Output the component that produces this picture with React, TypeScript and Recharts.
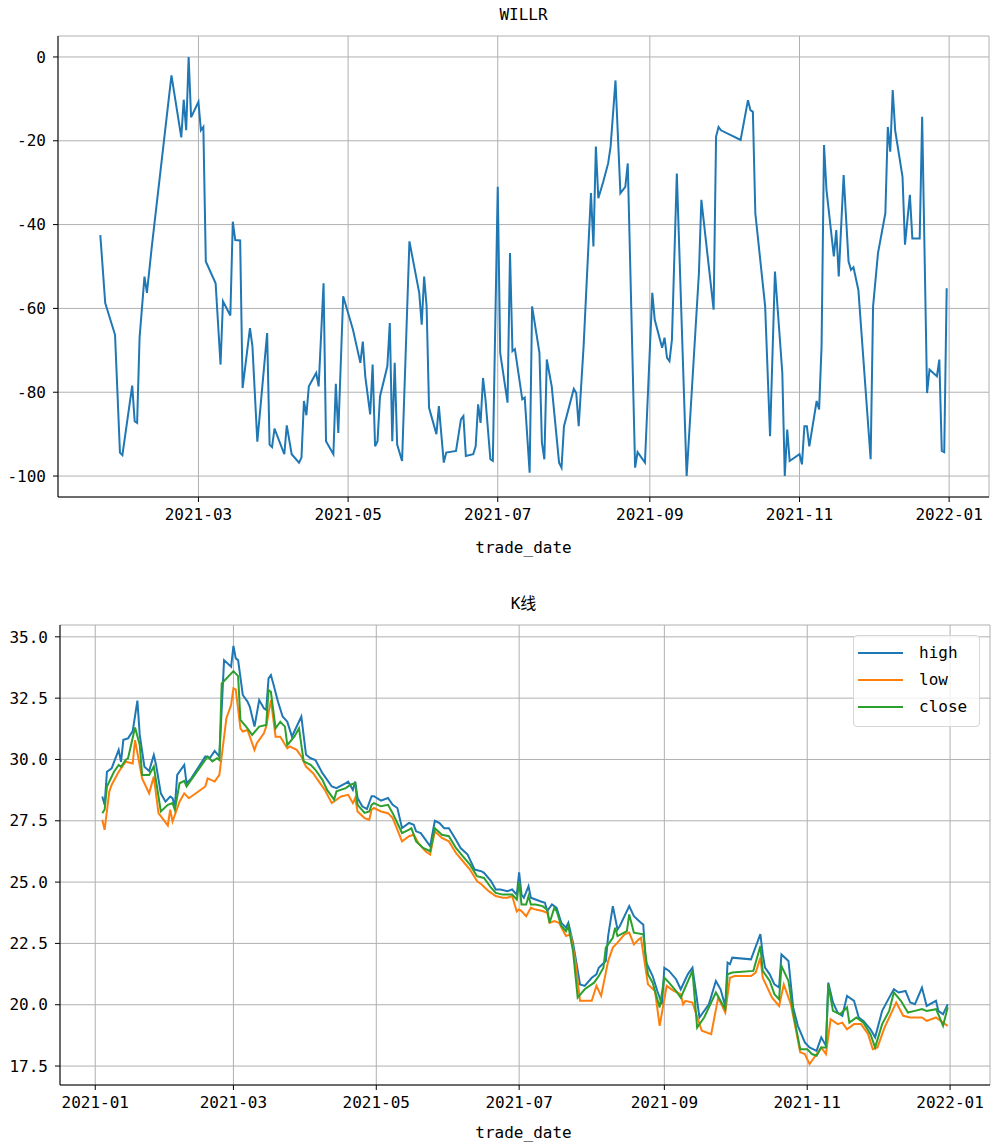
import React from "react";
import { LineChart, Line, XAxis, YAxis, CartesianGrid, Legend } from "recharts";

const FONT = '"DejaVu Sans Mono", "Noto Sans CJK SC", monospace';
const C_HIGH = "#1f77b4";
const C_LOW = "#ff7f0e";
const C_CLOSE = "#2ca02c";
const GRID = "#b0b0b0";

// ---- WILLR ----
const willrDates = [
  "2021-01-20", "2021-01-22", "2021-01-26", "2021-01-28", "2021-01-29",
  "2021-02-02", "2021-02-03", "2021-02-04", "2021-02-05", "2021-02-07", "2021-02-08", "2021-02-10", "2021-02-18", "2021-02-22", "2021-02-23", "2021-02-24", "2021-02-25", "2021-02-26",
  "2021-03-01", "2021-03-02", "2021-03-03", "2021-03-04", "2021-03-08", "2021-03-10", "2021-03-11", "2021-03-14", "2021-03-15", "2021-03-16", "2021-03-18", "2021-03-19", "2021-03-22", "2021-03-23", "2021-03-25", "2021-03-29", "2021-03-30", "2021-03-31",
  "2021-04-01", "2021-04-05", "2021-04-06", "2021-04-08", "2021-04-11", "2021-04-12", "2021-04-13", "2021-04-14", "2021-04-15", "2021-04-18", "2021-04-19", "2021-04-21", "2021-04-22", "2021-04-25", "2021-04-26", "2021-04-27", "2021-04-29",
  "2021-05-03", "2021-05-06", "2021-05-07", "2021-05-08", "2021-05-10", "2021-05-11", "2021-05-12", "2021-05-13", "2021-05-14", "2021-05-17", "2021-05-18", "2021-05-19", "2021-05-20", "2021-05-21", "2021-05-23", "2021-05-26", "2021-05-30", "2021-05-31",
  "2021-06-01", "2021-06-02", "2021-06-03", "2021-06-06", "2021-06-07", "2021-06-09", "2021-06-10", "2021-06-14", "2021-06-16", "2021-06-17", "2021-06-18", "2021-06-21", "2021-06-22", "2021-06-23", "2021-06-24", "2021-06-25", "2021-06-26", "2021-06-28", "2021-06-29",
  "2021-07-01", "2021-07-02", "2021-07-05", "2021-07-06", "2021-07-07", "2021-07-08", "2021-07-11", "2021-07-12", "2021-07-14", "2021-07-15", "2021-07-18", "2021-07-19", "2021-07-20", "2021-07-21", "2021-07-23", "2021-07-26", "2021-07-27", "2021-07-28",
  "2021-08-01", "2021-08-02", "2021-08-03", "2021-08-05", "2021-08-08", "2021-08-09", "2021-08-10", "2021-08-11", "2021-08-13", "2021-08-15", "2021-08-16", "2021-08-18", "2021-08-20", "2021-08-22", "2021-08-23", "2021-08-26", "2021-08-27", "2021-08-30",
  "2021-09-02", "2021-09-03", "2021-09-06", "2021-09-07", "2021-09-08", "2021-09-09", "2021-09-10", "2021-09-12", "2021-09-16", "2021-09-21", "2021-09-22", "2021-09-27", "2021-09-28", "2021-09-29", "2021-09-30",
  "2021-10-08", "2021-10-11", "2021-10-12", "2021-10-13", "2021-10-14", "2021-10-18", "2021-10-20", "2021-10-22", "2021-10-25", "2021-10-26", "2021-10-27", "2021-10-28",
  "2021-11-01", "2021-11-02", "2021-11-03", "2021-11-04", "2021-11-05", "2021-11-08", "2021-11-09", "2021-11-10", "2021-11-11", "2021-11-12", "2021-11-15", "2021-11-16", "2021-11-17", "2021-11-19", "2021-11-21", "2021-11-22", "2021-11-23", "2021-11-25", "2021-11-30",
  "2021-12-01", "2021-12-03", "2021-12-06", "2021-12-07", "2021-12-08", "2021-12-09", "2021-12-10", "2021-12-13", "2021-12-14", "2021-12-16", "2021-12-17", "2021-12-20", "2021-12-21", "2021-12-23", "2021-12-24", "2021-12-27", "2021-12-28", "2021-12-29", "2021-12-30", "2021-12-31",
];
const willrValues = [
  -42.5, -58.7, -66.3, -94.4, -95,
  -78.4, -86.9, -87.3, -67, -52.4, -56.3, -45.2, -4.4, -19.2, -10.2, -17.5, 0, -14.4,
  -10.7, -17.5, -16.7, -48.8, -54, -73.4, -58.3, -61.7, -39.3, -43.7, -43.8, -79, -64.7, -69, -91.8, -65.9, -92.5, -93.1,
  -88.7, -94.8, -87.9, -94.8, -96.8, -95.6, -82.1, -85.5, -78.6, -75.4, -78.6, -54, -91.7, -94.8, -78, -89.7, -57.1,
  -65.1, -73, -67.9, -76.2, -85.3, -73.4, -92.9, -91.7, -81, -73.8, -63.5, -91.7, -73, -92.5, -96.4, -44, -56.3, -63.9,
  -52.4, -59.5, -83.7, -90, -83.3, -96.8, -94.4, -94, -86.5, -85.7, -95.2, -94.8, -92.9, -82.9, -87.3, -76.6, -81.7, -96, -96.4,
  -31, -70.6, -82.5, -46.8, -70.2, -69.7, -81.7, -81.3, -99.2, -59.5, -70.6, -92, -96, -72.2, -78.6, -96.8, -98, -88.1,
  -79.2, -80.2, -88.1, -69, -32.5, -45.2, -21.4, -33.7, -29.8, -25.4, -21.4, -5.6, -32.5, -31, -25.4, -98, -94.3, -96.8,
  -56.3, -62.7, -69.4, -67, -71.8, -72.6, -67.5, -27.8, -100, -51.6, -34.1, -60.3, -19, -16.7, -17.5,
  -19.8, -10.3, -12.7, -13.1, -37.3, -59.5, -90.5, -51.2, -75.4, -100, -88.9, -96.4,
  -94.8, -97.2, -88.1, -88.1, -92.9, -82.1, -84.1, -69, -21, -31.7, -47.6, -41.3, -52.4, -28.2, -48.8, -50.8, -50.2, -55.6, -96,
  -59.5, -46.8, -37.3, -16.7, -22.6, -7.9, -17.5, -28.6, -44.8, -32.9, -43.3, -43.3, -14.3, -80.2, -74.6, -76.2, -72.2, -94, -94.3, -55.2,
];

// ---- K线 ----
const highDates = [
  "2021-01-04", "2021-01-05", "2021-01-06", "2021-01-08", "2021-01-11", "2021-01-12", "2021-01-13", "2021-01-15", "2021-01-17", "2021-01-19", "2021-01-20", "2021-01-22", "2021-01-24", "2021-01-26", "2021-01-27", "2021-01-29", "2021-01-31",
  "2021-02-02", "2021-02-03", "2021-02-04", "2021-02-05", "2021-02-08", "2021-02-09", "2021-02-11", "2021-02-17", "2021-02-19", "2021-02-21", "2021-02-23", "2021-02-25", "2021-02-28",
  "2021-03-01", "2021-03-02", "2021-03-03", "2021-03-05", "2021-03-07", "2021-03-08", "2021-03-10", "2021-03-12", "2021-03-14", "2021-03-15", "2021-03-16", "2021-03-17", "2021-03-18", "2021-03-20", "2021-03-22", "2021-03-24", "2021-03-26", "2021-03-27", "2021-03-30",
  "2021-04-01", "2021-04-03", "2021-04-05", "2021-04-08", "2021-04-09", "2021-04-12", "2021-04-14", "2021-04-18", "2021-04-19", "2021-04-21", "2021-04-22", "2021-04-23", "2021-04-25", "2021-04-27", "2021-04-29", "2021-04-30",
  "2021-05-03", "2021-05-06", "2021-05-08", "2021-05-10", "2021-05-12", "2021-05-15", "2021-05-17", "2021-05-18", "2021-05-20", "2021-05-22", "2021-05-24", "2021-05-26", "2021-05-28", "2021-05-30",
  "2021-06-01", "2021-06-04", "2021-06-06", "2021-06-09", "2021-06-12", "2021-06-15", "2021-06-16", "2021-06-19", "2021-06-21", "2021-06-23", "2021-06-26", "2021-06-28", "2021-06-30",
  "2021-07-01", "2021-07-02", "2021-07-03", "2021-07-05", "2021-07-06", "2021-07-08", "2021-07-10", "2021-07-12", "2021-07-13", "2021-07-15", "2021-07-17", "2021-07-19", "2021-07-21", "2021-07-22", "2021-07-24", "2021-07-27", "2021-07-29",
  "2021-08-01", "2021-08-03", "2021-08-04", "2021-08-07", "2021-08-08", "2021-08-10", "2021-08-12", "2021-08-13", "2021-08-17", "2021-08-19", "2021-08-22", "2021-08-23", "2021-08-24", "2021-08-27", "2021-08-29", "2021-08-31",
  "2021-09-01", "2021-09-03", "2021-09-06", "2021-09-08", "2021-09-11", "2021-09-13", "2021-09-16", "2021-09-20", "2021-09-23", "2021-09-25", "2021-09-27", "2021-09-28", "2021-09-29", "2021-09-30",
  "2021-10-08", "2021-10-12", "2021-10-13", "2021-10-14", "2021-10-16", "2021-10-18", "2021-10-20", "2021-10-21", "2021-10-24", "2021-10-26", "2021-10-28", "2021-10-31",
  "2021-11-02", "2021-11-05", "2021-11-07", "2021-11-09", "2021-11-10", "2021-11-12", "2021-11-14", "2021-11-16", "2021-11-18", "2021-11-21", "2021-11-23", "2021-11-25", "2021-11-28", "2021-11-30",
  "2021-12-03", "2021-12-06", "2021-12-08", "2021-12-10", "2021-12-13", "2021-12-15", "2021-12-17", "2021-12-20", "2021-12-22", "2021-12-26", "2021-12-27", "2021-12-29", "2021-12-31",
];
const highValues = [
  28.49, 28.15, 29.5, 29.64, 30.39, 29.9, 30.8, 30.86, 31.16, 32.4, 31.0, 29.7, 29.53, 30.18, 29.77, 28.62, 28.28,
  28.49, 28.42, 28.08, 29.37, 29.78, 29.03, 29.23, 30.12, 30.07, 30.35, 30.12, 34.05, 33.78,
  34.63, 34.12, 34.05, 32.63, 32.36, 32.15, 31.34, 32.42, 32.09, 32.02, 33.31, 33.44, 33.1, 32.36, 31.75, 31.54, 30.93, 31.14, 31.75,
  30.19, 30.05, 29.98, 29.44, 29.31, 28.9, 28.83, 29.04, 29.1, 28.76, 29.1, 28.43, 28.09, 27.98, 28.5, 28.5,
  28.32, 28.43, 28.15, 28.02, 27.2, 27.41, 27.34, 27.07, 27.0, 26.73, 26.46, 27.5, 27.41, 27.2,
  27.2, 26.73, 26.39, 26.12, 25.51, 25.44, 25.38, 25.04, 24.7, 24.7, 24.63, 24.7, 24.49,
  25.4, 24.49, 24.36, 24.83, 24.36, 24.29, 24.22, 24.16, 23.82, 24.09, 23.95, 23.34, 23.14, 23.34, 22.53, 20.83, 20.77,
  21.1, 21.24, 21.51, 21.78, 22.8, 24.02, 23.07, 23.21, 24.02, 23.61, 23.34, 23.27, 21.78, 21.17, 20.56, 20.02,
  21.51, 21.38, 21.04, 20.63, 21.24, 21.51, 19.48, 20.02, 20.97, 20.63, 19.95, 21.72, 21.65, 21.92,
  21.85, 22.88, 22.06, 21.51, 21.24, 20.83, 20.7, 22.05, 21.78, 19.89, 19.14, 18.46,
  18.26, 18.12, 18.67, 18.33, 20.9, 20.09, 19.68, 19.55, 20.36, 20.16, 19.48, 19.34, 19.0, 18.67,
  19.75, 20.29, 20.63, 20.5, 20.56, 20.09, 20.02, 20.7, 19.95, 20.16, 19.75, 19.61, 20.02,
];

const lowDates = [
  "2021-01-04", "2021-01-05", "2021-01-07", "2021-01-08", "2021-01-11", "2021-01-14", "2021-01-17", "2021-01-18", "2021-01-21", "2021-01-22", "2021-01-24", "2021-01-26", "2021-01-28",
  "2021-02-01", "2021-02-02", "2021-02-03", "2021-02-06", "2021-02-08", "2021-02-10", "2021-02-17", "2021-02-18", "2021-02-21", "2021-02-23", "2021-02-26", "2021-02-28",
  "2021-03-01", "2021-03-02", "2021-03-04", "2021-03-05", "2021-03-07", "2021-03-10", "2021-03-11", "2021-03-14", "2021-03-15", "2021-03-17", "2021-03-19", "2021-03-21", "2021-03-24", "2021-03-25", "2021-03-28", "2021-03-30",
  "2021-04-01", "2021-04-04", "2021-04-06", "2021-04-09", "2021-04-12", "2021-04-14", "2021-04-16", "2021-04-19", "2021-04-21", "2021-04-22", "2021-04-23", "2021-04-26", "2021-04-28", "2021-04-29", "2021-04-30",
  "2021-05-03", "2021-05-06", "2021-05-08", "2021-05-12", "2021-05-15", "2021-05-17", "2021-05-19", "2021-05-22", "2021-05-24", "2021-05-26", "2021-05-29",
  "2021-06-01", "2021-06-04", "2021-06-07", "2021-06-10", "2021-06-13", "2021-06-15", "2021-06-18", "2021-06-21", "2021-06-24", "2021-06-26", "2021-06-28", "2021-06-30",
  "2021-07-01", "2021-07-02", "2021-07-04", "2021-07-06", "2021-07-08", "2021-07-11", "2021-07-13", "2021-07-14", "2021-07-16", "2021-07-18", "2021-07-21", "2021-07-23", "2021-07-25", "2021-07-27", "2021-07-30",
  "2021-08-01", "2021-08-03", "2021-08-05", "2021-08-08", "2021-08-10", "2021-08-12", "2021-08-15", "2021-08-17", "2021-08-19", "2021-08-21", "2021-08-22", "2021-08-25", "2021-08-28", "2021-08-30",
  "2021-09-02", "2021-09-05", "2021-09-08", "2021-09-09", "2021-09-10", "2021-09-13", "2021-09-17", "2021-09-21", "2021-09-24", "2021-09-27", "2021-09-29",
  "2021-10-01", "2021-10-08", "2021-10-10", "2021-10-12", "2021-10-13", "2021-10-17", "2021-10-20", "2021-10-22", "2021-10-25", "2021-10-27", "2021-10-29", "2021-10-31",
  "2021-11-02", "2021-11-04", "2021-11-07", "2021-11-09", "2021-11-11", "2021-11-14", "2021-11-16", "2021-11-18", "2021-11-21", "2021-11-24", "2021-11-27", "2021-11-29",
  "2021-12-01", "2021-12-04", "2021-12-07", "2021-12-09", "2021-12-12", "2021-12-15", "2021-12-20", "2021-12-22", "2021-12-26", "2021-12-27", "2021-12-29", "2021-12-31",
];
const lowValues = [
  27.54, 27.13, 28.69, 28.96, 29.5, 29.91, 29.84, 30.79, 29.23, 29.03, 28.62, 29.3, 27.81,
  27.31, 27.95, 27.47, 28.28, 28.62, 28.42, 28.9, 29.23, 29.1, 29.37, 31.68, 32.22,
  32.9, 32.85, 31.27, 31.14, 31.2, 30.39, 30.66, 31.07, 31.34, 32.42, 30.93, 30.93, 30.46, 30.53, 30.39, 30.12,
  29.71, 29.44, 29.17, 28.76, 28.22, 28.36, 28.49, 28.56, 28.22, 28.43, 27.88, 27.61, 27.54, 27.95, 28.02,
  27.88, 27.81, 27.61, 26.66, 26.87, 26.93, 26.59, 26.26, 26.12, 27.07, 26.8,
  26.66, 26.19, 25.85, 25.51, 25.04, 24.9, 24.63, 24.43, 24.36, 24.36, 24.43, 23.8,
  23.88, 23.82, 23.61, 23.95, 23.88, 23.82, 23.75, 23.34, 23.41, 23.34, 22.8, 22.87, 21.78, 20.16, 20.16,
  20.16, 20.77, 20.36, 21.78, 22.33, 22.53, 22.87, 22.94, 22.46, 22.66, 22.73, 20.83, 20.56, 19.14,
  20.77, 20.56, 20.43, 20.02, 20.16, 20.09, 18.94, 18.8, 20.29, 19.68, 21.1,
  21.17, 21.17, 21.31, 21.92, 21.1, 20.29, 19.95, 20.83, 20.02, 19.07, 18.06, 17.99,
  17.58, 17.85, 18.26, 17.99, 19.41, 19.21, 19.27, 19.0, 19.21, 19.21, 18.8, 18.19,
  18.26, 19.07, 19.68, 20.09, 19.55, 19.48, 19.48, 19.34, 19.48, 19.41, 19.27, 19.14,
];

const closeDates = [
  "2021-01-04", "2021-01-05", "2021-01-06", "2021-01-09", "2021-01-11", "2021-01-12", "2021-01-14", "2021-01-15", "2021-01-18", "2021-01-20", "2021-01-21", "2021-01-24", "2021-01-26", "2021-01-29",
  "2021-02-01", "2021-02-03", "2021-02-04", "2021-02-06", "2021-02-08", "2021-02-09", "2021-02-18", "2021-02-20", "2021-02-22", "2021-02-23", "2021-02-24",
  "2021-03-01", "2021-03-02", "2021-03-03", "2021-03-04", "2021-03-07", "2021-03-09", "2021-03-12", "2021-03-15", "2021-03-16", "2021-03-17", "2021-03-19", "2021-03-21", "2021-03-23", "2021-03-24", "2021-03-27", "2021-03-29", "2021-03-31",
  "2021-04-03", "2021-04-05", "2021-04-08", "2021-04-10", "2021-04-13", "2021-04-14", "2021-04-18", "2021-04-20", "2021-04-22", "2021-04-23", "2021-04-26", "2021-04-28", "2021-04-29", "2021-04-30",
  "2021-05-03", "2021-05-06", "2021-05-08", "2021-05-12", "2021-05-15", "2021-05-16", "2021-05-18", "2021-05-21", "2021-05-24", "2021-05-26", "2021-05-29",
  "2021-06-01", "2021-06-04", "2021-06-07", "2021-06-10", "2021-06-13", "2021-06-16", "2021-06-19", "2021-06-21", "2021-06-24", "2021-06-26", "2021-06-28", "2021-06-30",
  "2021-07-01", "2021-07-02", "2021-07-04", "2021-07-05", "2021-07-06", "2021-07-08", "2021-07-11", "2021-07-13", "2021-07-14", "2021-07-16", "2021-07-17", "2021-07-19", "2021-07-21", "2021-07-22", "2021-07-24", "2021-07-26", "2021-07-29",
  "2021-08-02", "2021-08-04", "2021-08-06", "2021-08-07", "2021-08-10", "2021-08-11", "2021-08-12", "2021-08-16", "2021-08-17", "2021-08-19", "2021-08-23", "2021-08-25", "2021-08-27", "2021-08-30",
  "2021-09-01", "2021-09-03", "2021-09-06", "2021-09-08", "2021-09-13", "2021-09-15", "2021-09-18", "2021-09-23", "2021-09-25", "2021-09-27", "2021-09-28", "2021-09-30",
  "2021-10-09", "2021-10-12", "2021-10-13", "2021-10-16", "2021-10-18", "2021-10-20", "2021-10-21", "2021-10-24", "2021-10-26", "2021-10-29",
  "2021-11-01", "2021-11-03", "2021-11-05", "2021-11-07", "2021-11-09", "2021-11-10", "2021-11-12", "2021-11-15", "2021-11-18", "2021-11-19", "2021-11-22", "2021-11-25", "2021-11-28", "2021-11-30",
  "2021-12-03", "2021-12-06", "2021-12-08", "2021-12-11", "2021-12-14", "2021-12-17", "2021-12-20", "2021-12-22", "2021-12-26", "2021-12-27", "2021-12-29", "2021-12-31",
];
const closeValues = [
  27.81, 27.95, 28.9, 29.5, 29.78, 29.7, 29.98, 30.05, 31.3, 30.59, 29.37, 29.37, 29.71, 27.88,
  28.15, 28.22, 27.95, 29.03, 29.13, 28.9, 30.12, 29.92, 30.05, 29.98, 33.1,
  33.6, 33.5, 33.4, 31.61, 31.27, 31.0, 31.34, 31.41, 32.83, 32.76, 31.27, 31.54, 31.34, 30.59, 30.93, 31.27, 29.92,
  29.78, 29.58, 29.17, 28.76, 28.36, 28.7, 28.83, 28.97, 29.04, 28.15, 27.82, 27.88, 28.15, 28.22,
  28.09, 28.15, 27.81, 27.0, 27.14, 27.2, 26.66, 26.39, 26.26, 27.2, 26.93,
  26.87, 26.39, 26.05, 25.71, 25.24, 25.17, 24.77, 24.56, 24.49, 24.49, 24.49, 24.29,
  25.0, 24.09, 24.09, 24.43, 24.09, 24.09, 24.02, 23.88, 23.34, 23.95, 23.82, 23.21, 23.0, 23.21, 22.19, 20.29, 20.63,
  20.9, 21.17, 21.51, 22.33, 22.73, 23.14, 22.8, 23.0, 23.68, 22.94, 22.87, 21.24, 20.9, 19.89,
  21.1, 20.9, 20.56, 20.29, 21.38, 19.07, 19.48, 20.5, 20.16, 19.82, 21.24, 21.31,
  21.38, 22.39, 21.38, 20.97, 20.43, 20.22, 21.58, 20.97, 19.68, 18.19,
  18.19, 17.99, 17.92, 18.26, 18.26, 20.83, 19.75, 19.61, 19.89, 19.27, 19.48, 19.27, 18.8, 18.26,
  19.21, 19.75, 20.5, 20.16, 19.68, 19.75, 19.82, 19.75, 19.82, 19.61, 19.14, 19.9,
];

// ---- axes ----
const willrTickDates = ["2021-03-01", "2021-05-01", "2021-07-01", "2021-09-01", "2021-11-01", "2022-01-01"];
const klineTickDates = ["2021-01-01", ...willrTickDates];
const willrTicks = [-100, -80, -60, -40, -20, 0];
const priceTicks = [17.5, 20, 22.5, 25, 27.5, 30, 32.5, 35];
const legendOrder = ["high", "low", "close"];

const ts = (d: string) => Date.parse(d);
const monthLabel = (t: number) => new Date(t).toISOString().slice(0, 7);

// matplotlib autoscale: data limits plus a 5% margin each side
const autoscale = (vals: number[]): [number, number] => {
  const lo = Math.min(...vals);
  const hi = Math.max(...vals);
  const m = (hi - lo) * 0.05;
  return [lo - m, hi + m];
};

const willrData = willrDates.map((d, i) => ({ t: ts(d), willr: willrValues[i] }));

const klineMap = new Map<number, any>();
const addSeries = (dates: string[], vals: number[], key: string) => {
  dates.forEach((d, i) => {
    const t = ts(d);
    const row = klineMap.get(t) || { t };
    row[key] = vals[i];
    klineMap.set(t, row);
  });
};
addSeries(highDates, highValues, "high");
addSeries(lowDates, lowValues, "low");
addSeries(closeDates, closeValues, "close");
const klineData = Array.from(klineMap.values()).sort((a, b) => a.t - b.t);

const tickStyle = { fill: "#000", fontSize: 16, fontFamily: FONT };
const axisLine = { stroke: "#000", strokeWidth: 1 };

const labelStyle: React.CSSProperties = {
  position: "absolute",
  width: 1047,
  left: 0,
  textAlign: "center",
  fontFamily: FONT,
  fontSize: 16,
  color: "#000",
  lineHeight: "20px",
};

function LegendBox(props: any) {
  const items = [...(props.payload || [])].sort(
    (a: any, b: any) => legendOrder.indexOf(a.value) - legendOrder.indexOf(b.value)
  );
  return (
    <div
      style={{
        border: "1px solid #d6d6d6",
        borderRadius: 4,
        background: "rgba(255,255,255,0.8)",
        padding: "3px 4px 6px 4px",
        boxSizing: "border-box",
        width: 127,
        fontFamily: FONT,
        fontSize: 16,
      }}
    >
      {items.map((it: any) => (
        <div key={it.value} style={{ display: "flex", alignItems: "center", height: 27 }}>
          <svg width={45} height={6}>
            <line x1={0} y1={3} x2={45} y2={3} stroke={it.color} strokeWidth={2} />
          </svg>
          <span style={{ marginLeft: 16, color: "#000" }}>{it.value}</span>
        </div>
      ))}
    </div>
  );
}

function WillrChart() {
  const xDomain = autoscale(willrData.map((d) => d.t));
  const yDomain = autoscale(willrValues);
  return (
    <LineChart width={1003} height={560} data={willrData} margin={{ top: 36, right: 14, left: 0, bottom: 23 }}>
      <CartesianGrid stroke={GRID} strokeWidth={1} />
      <XAxis
        dataKey="t"
        type="number"
        domain={xDomain}
        allowDataOverflow
        ticks={willrTickDates.map(ts)}
        tickFormatter={monthLabel}
        height={40}
        tick={tickStyle}
        tickSize={5}
        tickMargin={7}
        tickLine={axisLine}
        axisLine={axisLine}
      />
      <XAxis xAxisId="top" orientation="top" type="number" domain={xDomain} allowDataOverflow height={0} tick={false} tickLine={false} axisLine={axisLine} />
      <YAxis
        type="number"
        domain={yDomain}
        allowDataOverflow
        ticks={willrTicks}
        width={58}
        tick={tickStyle}
        tickSize={5}
        tickMargin={7}
        tickLine={axisLine}
        axisLine={axisLine}
      />
      <YAxis yAxisId="right" orientation="right" type="number" domain={yDomain} allowDataOverflow width={0} tick={false} tickLine={false} axisLine={axisLine} />
      <Line dataKey="willr" stroke={C_HIGH} strokeWidth={2} dot={false} isAnimationActive={false} />
    </LineChart>
  );
}

function KlineChart() {
  const xDomain = autoscale(klineData.map((d) => d.t));
  const yDomain = autoscale([...highValues, ...lowValues, ...closeValues]);
  return (
    <LineChart width={1003} height={573} data={klineData} margin={{ top: 55, right: 13, left: 0, bottom: 18 }}>
      <CartesianGrid stroke={GRID} strokeWidth={1} />
      <XAxis
        dataKey="t"
        type="number"
        domain={xDomain}
        allowDataOverflow
        ticks={klineTickDates.map(ts)}
        tickFormatter={monthLabel}
        height={40}
        tick={tickStyle}
        tickSize={5}
        tickMargin={7}
        tickLine={axisLine}
        axisLine={axisLine}
      />
      <XAxis xAxisId="top" orientation="top" type="number" domain={xDomain} allowDataOverflow height={0} tick={false} tickLine={false} axisLine={axisLine} />
      <YAxis
        type="number"
        domain={yDomain}
        allowDataOverflow
        ticks={priceTicks}
        tickFormatter={(v: number) => v.toFixed(1)}
        width={60}
        tick={tickStyle}
        tickSize={5}
        tickMargin={7}
        tickLine={axisLine}
        axisLine={axisLine}
      />
      <YAxis yAxisId="right" orientation="right" type="number" domain={yDomain} allowDataOverflow width={0} tick={false} tickLine={false} axisLine={axisLine} />
      <Legend
        content={<LegendBox />}
        layout="horizontal"
        verticalAlign="middle"
        align="center"
        wrapperStyle={{ left: 853, top: 65, width: 127 }}
      />
      <Line name="high" dataKey="high" stroke={C_HIGH} strokeWidth={2} dot={false} connectNulls isAnimationActive={false} />
      <Line name="low" dataKey="low" stroke={C_LOW} strokeWidth={2} dot={false} connectNulls isAnimationActive={false} />
      <Line name="close" dataKey="close" stroke={C_CLOSE} strokeWidth={2} dot={false} connectNulls isAnimationActive={false} />
    </LineChart>
  );
}

export default function App() {
  return (
    <div style={{ position: "absolute", left: 0, top: 0, width: 1003, height: 1143, background: "#fff" }}>
      <div style={{ ...labelStyle, top: 5 }}>WILLR</div>
      <div style={{ position: "absolute", left: 0, top: 0 }}>
        <WillrChart />
      </div>
      <div style={{ ...labelStyle, top: 538 }}>trade_date</div>

      <div style={{ ...labelStyle, top: 594 }}>K线</div>
      <div style={{ position: "absolute", left: 0, top: 570 }}>
        <KlineChart />
      </div>
      <div style={{ ...labelStyle, top: 1123 }}>trade_date</div>
    </div>
  );
}
